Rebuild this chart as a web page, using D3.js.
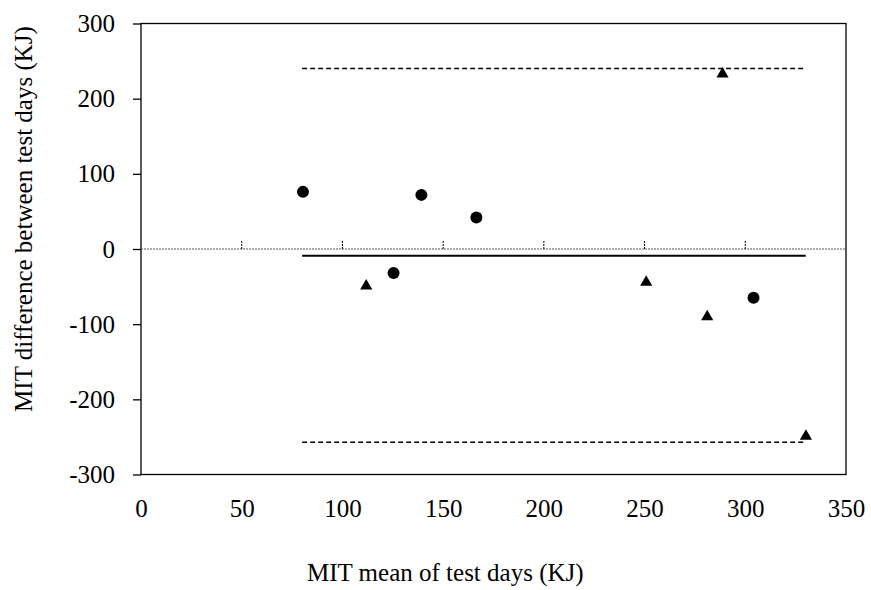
<!DOCTYPE html>
<meta charset="utf-8">
<style>
body { margin: 0; background: #fff; }
svg text { font-family: "Times New Roman", "Liberation Serif", Times, "DejaVu Serif", serif; fill: #000; }
.tick text { font-size: 25px; }
.title { font-size: 25px; }
</style>
<body>
<script src="https://cdn.jsdelivr.net/npm/d3@7"></script>
<script>

// limits of agreement (mean difference and +/- 1.96 SD), drawn across x = 80..330
var meanDiff = -9,
    upperLimit = 240,
    lowerLimit = -257,
    limitRange = [80, 330];

// points: mean of test days vs difference between test days
var circleMean = [80.4, 125.4, 139.2, 166.5, 304.1],
    circleDiff = [76, -32, 72, 42, -65];
var triangleMean = [111.8, 250.8, 281.1, 288.7, 330.1],
    triangleDiff = [-47, -42, -88, 235, -247];

var xTicks = [0, 50, 100, 150, 200, 250, 300, 350],
    yTicks = [-300, -200, -100, 0, 100, 200, 300];

var width = 871, height = 590;
var margin = {top: 23.5, right: 25, bottom: 115.5, left: 141};

var x = d3.scaleLinear().domain([0, 350]).range([margin.left, width - margin.right]);
var y = d3.scaleLinear().domain([-300, 300]).range([height - margin.bottom, margin.top]);

var svg = d3.select("body").append("svg")
    .attr("width", width)
    .attr("height", height);

// plot frame
svg.append("rect")
    .attr("x", x(0))
    .attr("y", y(300))
    .attr("width", x(350) - x(0))
    .attr("height", y(-300) - y(300))
    .attr("fill", "none")
    .attr("stroke", "#000")
    .attr("stroke-width", 1.3);

// zero line
svg.append("line")
    .attr("x1", x(0)).attr("x2", x(350))
    .attr("y1", y(0)).attr("y2", y(0))
    .attr("stroke", "#555")
    .attr("stroke-width", 1)
    .attr("stroke-dasharray", "2,1");

// little x ticks sitting on the zero line
svg.selectAll(".xmark")
    .data(xTicks.slice(1, -1))
  .enter().append("line")
    .attr("class", "xmark")
    .attr("x1", d => x(d)).attr("x2", d => x(d))
    .attr("y1", y(0)).attr("y2", y(0) - 8)
    .attr("stroke", "#000")
    .attr("stroke-width", 1)
    .attr("stroke-dasharray", "2,1");

// y axis
var yAxis = svg.append("g")
    .attr("transform", "translate(" + x(0) + ",0)")
    .call(d3.axisLeft(y).tickValues(yTicks).tickSize(8).tickPadding(18).tickFormat(d => String(d)));
yAxis.attr("font-family", null);
yAxis.select(".domain").remove();
yAxis.selectAll(".tick line").attr("stroke-width", 1.3);
yAxis.selectAll(".tick text").attr("dy", "0.32em");

// x axis labels below the frame
var xAxis = svg.append("g")
    .attr("transform", "translate(0," + y(-300) + ")")
    .call(d3.axisBottom(x).tickValues(xTicks).tickSize(0).tickPadding(0).tickFormat(d => String(d)));
xAxis.attr("font-family", null);
xAxis.select(".domain").remove();
xAxis.selectAll(".tick text").attr("dy", null).attr("y", 42.5);

// limit lines
svg.append("line")
    .attr("x1", x(limitRange[0])).attr("x2", x(limitRange[1]))
    .attr("y1", y(meanDiff)).attr("y2", y(meanDiff))
    .attr("stroke", "#000").attr("stroke-width", 2);

svg.selectAll(".limit")
    .data([upperLimit, lowerLimit])
  .enter().append("line")
    .attr("class", "limit")
    .attr("x1", x(limitRange[0])).attr("x2", x(limitRange[1]))
    .attr("y1", d => y(d)).attr("y2", d => y(d))
    .attr("stroke", "#000").attr("stroke-width", 1.5)
    .attr("stroke-dasharray", "5,3");

// markers
svg.selectAll(".dot")
    .data(d3.range(circleMean.length))
  .enter().append("circle")
    .attr("class", "dot")
    .attr("cx", i => x(circleMean[i]))
    .attr("cy", i => y(circleDiff[i]))
    .attr("r", 6)
    .attr("fill", "#000");

// d3 triangles are centred on the centroid, nudge so the box centre hits the value
var tri = d3.symbol().type(d3.symbolTriangle).size(64);
svg.selectAll(".tri")
    .data(d3.range(triangleMean.length))
  .enter().append("path")
    .attr("class", "tri")
    .attr("transform", i => "translate(" + x(triangleMean[i]) + "," + (y(triangleDiff[i]) + 1.7) + ")")
    .attr("d", tri)
    .attr("fill", "#000");

// axis titles
svg.append("text")
    .attr("class", "title")
    .attr("x", 307)
    .attr("y", 581)
    .text("MIT mean of test days (KJ)");

svg.append("text")
    .attr("class", "title")
    .attr("transform", "translate(31.5,219) rotate(-90)")
    .attr("text-anchor", "middle")
    .text("MIT difference between test days (KJ)");

</script>
